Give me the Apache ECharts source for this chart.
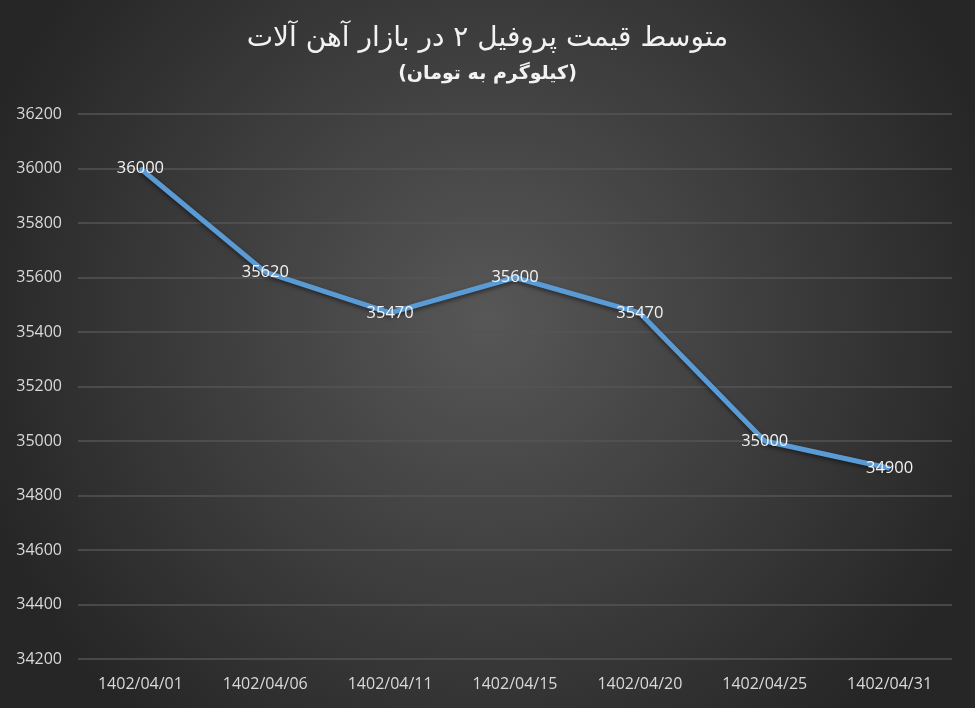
<!DOCTYPE html>
<html><head><meta charset="utf-8">
<script src="https://cdn.jsdelivr.net/npm/echarts@6/dist/echarts.min.js"></script>
<style>html,body{margin:0;padding:0;width:975px;height:708px;overflow:hidden;}
#c{width:975px;height:708px;}</style></head>
<body><div id="c"></div>
<script>
var categories = ['1402/04/01','1402/04/06','1402/04/11','1402/04/15','1402/04/20','1402/04/25','1402/04/31'];
var prices = [36000, 35620, 35470, 35600, 35470, 35000, 34900];
var titleText = 'متوسط قیمت پروفیل ۲ در بازار آهن آلات';
var subtitleText = '(کیلوگرم به تومان)';

var chart = echarts.init(document.getElementById('c'));
chart.setOption({
  backgroundColor: {
    type: 'radial', x: 0.5, y: 0.45, r: 0.75,
    colorStops: [{offset: 0, color: '#575757'}, {offset: 1, color: '#262626'}]
  },
  title: {
    text: titleText, subtext: subtitleText, left: 'center', top: 20, itemGap: 12,
    textStyle: {color: '#f2f2f2', fontSize: 28, fontWeight: 'normal', fontFamily: 'DejaVu Sans'},
    subtextStyle: {color: '#f2f2f2', fontSize: 19, fontWeight: 'bold', fontFamily: 'DejaVu Sans'}
  },
  grid: {left: 78, right: 23, top: 114, bottom: 49},
  xAxis: {
    type: 'category', data: categories, boundaryGap: true,
    axisLine: {show: false}, axisTick: {show: false},
    axisLabel: {color: '#d9d9d9', fontSize: 16, margin: 17, fontFamily: 'Open Sans'}
  },
  yAxis: {
    type: 'value', min: 34200, max: 36200, interval: 200,
    axisLine: {show: false}, axisTick: {show: false},
    axisLabel: {color: '#d9d9d9', fontSize: 16, margin: 16, fontFamily: 'Open Sans', formatter: function (v) { return String(v); }},
    splitLine: {lineStyle: {color: '#555555', width: 1.5}}
  },
  series: [{
    type: 'line', data: prices, symbol: 'circle', symbolSize: 2, showSymbol: true,
    lineStyle: {color: '#5b9bd5', width: 5, shadowColor: 'rgba(0,0,0,0.5)', shadowBlur: 4, shadowOffsetY: 2},
    itemStyle: {color: '#5b9bd5'},
    label: {show: true, position: 'inside', offset: [0, 2], color: '#f2f2f2', fontSize: 16.5, fontFamily: 'Open Sans', opacity: 1},
    labelLayout: {hideOverlap: false},
    animation: false
  }],
  animation: false
});
</script></body></html>
